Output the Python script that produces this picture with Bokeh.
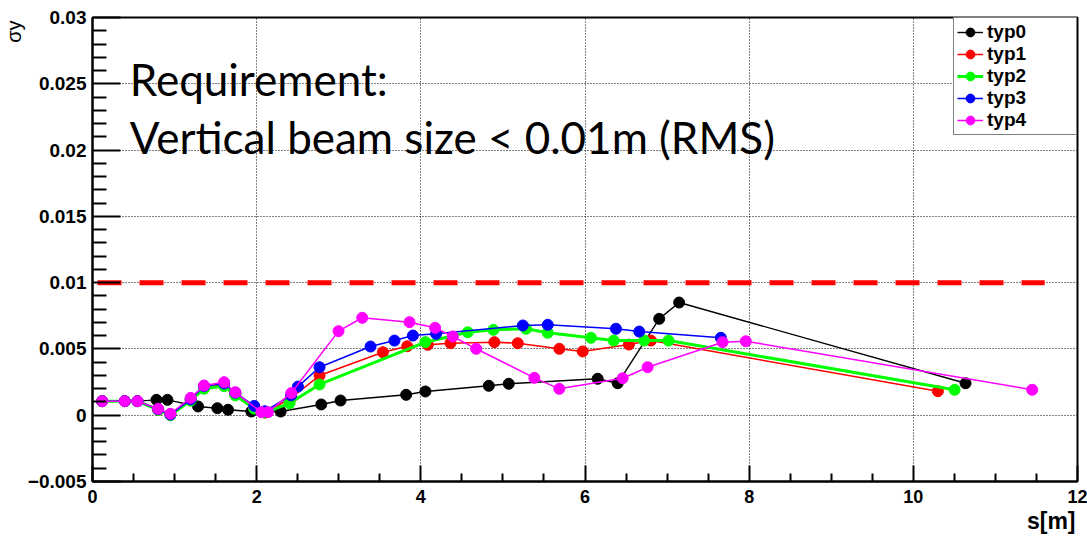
import numpy as np
from bokeh.plotting import figure
from bokeh.models import FixedTicker, Label, Legend, LegendItem, Range1d, Title
from bokeh.embed import file_html
from bokeh.resources import INLINE

# ---------------- data ----------------
series_names = ["typ0", "typ1", "typ2", "typ3", "typ4"]
series_colors = ["#000000", "#ff0000", "#00ff00", "#0000ff", "#ff00ff"]

typ0_s = [0.118, 0.393, 0.548, 0.779, 0.913, 1.286, 1.521, 1.651, 1.935, 2.292, 2.787, 3.022,
          3.821, 4.056, 4.828, 5.071, 6.154, 6.398, 6.904, 7.147, 10.636]
typ0_sy = [0.00106, 0.00106, 0.00106, 0.00116, 0.00116, 0.00066, 0.00053, 0.00041, 0.00028, 0.00028,
           0.00081, 0.00111, 0.00154, 0.00179, 0.00222, 0.00237, 0.00275, 0.00241, 0.00727, 0.0085, 0.00241]

typ1_s = [0.118, 0.393, 0.548, 0.80, 0.949, 1.196, 1.359, 1.603, 1.740, 1.97, 2.10, 2.42,
          2.766, 3.538, 3.834, 4.085, 4.361, 4.896, 5.181, 5.687, 5.972, 6.535, 6.803, 10.299]
typ1_sy = [0.00106, 0.00106, 0.00106, 0.0004, 0.00005, 0.0012, 0.0021, 0.0023, 0.0016, 0.0006, 0.0002, 0.0013,
           0.00299, 0.00475, 0.00520, 0.00531, 0.00543, 0.00551, 0.00543, 0.00501, 0.00481, 0.00533, 0.00563, 0.00181]

typ2_s = [0.118, 0.393, 0.548, 0.80, 0.949, 1.196, 1.359, 1.603, 1.740, 1.97, 2.10, 2.40,
          2.766, 4.056, 4.572, 4.884, 5.282, 5.546, 6.073, 6.349, 6.721, 7.018, 10.503]
typ2_sy = [0.00106, 0.00106, 0.00106, 0.0004, 0.0000, 0.0011, 0.0020, 0.0022, 0.0015, 0.0005, 0.0002, 0.0009,
           0.00232, 0.00551, 0.00626, 0.00644, 0.00652, 0.00622, 0.00584, 0.00563, 0.00563, 0.00563, 0.00192]

typ3_s = [0.118, 0.393, 0.548, 0.80, 0.949, 1.196, 1.359, 1.603, 1.740, 1.97, 2.10, 2.42, 2.503,
          2.766, 3.387, 3.679, 3.903, 4.186, 5.242, 5.546, 6.377, 6.661, 7.655]
typ3_sy = [0.00106, 0.00106, 0.00106, 0.00045, 0.00005, 0.0012, 0.0022, 0.0024, 0.0017, 0.0007, 0.0003, 0.0015, 0.00216,
           0.00362, 0.00518, 0.00563, 0.00601, 0.00614, 0.00677, 0.00682, 0.00652, 0.00631, 0.00584]

typ4_s = [0.118, 0.393, 0.548, 0.800, 0.949, 1.196, 1.359, 1.603, 1.740, 2.057, 2.138, 2.422,
          2.997, 3.286, 3.862, 4.174, 4.390, 4.674, 5.383, 5.687, 6.459, 6.763, 7.676, 7.959, 11.448]
typ4_sy = [0.00106, 0.00106, 0.00106, 0.00048, 0.00011, 0.00131, 0.00224, 0.00249, 0.00173, 0.00023, 0.00023, 0.00167,
           0.00634, 0.00735, 0.00702, 0.00659, 0.00594, 0.00501, 0.00282, 0.00199, 0.00279, 0.00362, 0.00551, 0.00558, 0.00192]

series_s = [typ0_s, typ1_s, typ2_s, typ3_s, typ4_s]
series_sy = [typ0_sy, typ1_sy, typ2_sy, typ3_sy, typ4_sy]
series_widths = [1.4, 1.5, 3.0, 1.5, 1.5]

requirement = 0.01
req_s = [0.061, 11.60]

x_ticks = [0, 2, 4, 6, 8, 10, 12]
x_tick_labels = ["0", "2", "4", "6", "8", "10", "12"]
y_ticks = [-0.005, 0.0, 0.005, 0.01, 0.015, 0.02, 0.025, 0.03]
y_tick_labels = ["\u22120.005", "0", "0.005", "0.01", "0.015", "0.02", "0.025", "0.03"]

x_title = "s[m]"
y_title = "\u03c3y"
note_lines = ["Requirement:", "Vertical beam size < 0.01m (RMS)"]

# ---------------- figure ----------------
p = figure(width=1087, height=538, output_backend="svg", toolbar_location=None,
           x_range=Range1d(0, 12), y_range=Range1d(-0.005, 0.03),
           min_border_left=91, min_border_right=10, min_border_top=17, min_border_bottom=57)
p.title.visible = False
p.background_fill_color = "white"
p.border_fill_color = "white"
p.outline_line_color = "black"
p.outline_line_width = 2

x_minor = [v for v in np.arange(0, 12.01, 0.5) if v not in x_ticks]
y_minor = [round(v, 4) for v in np.arange(-0.005, 0.0301, 0.001) if round(v, 4) not in y_ticks]

p.xaxis.ticker = FixedTicker(ticks=x_ticks, minor_ticks=x_minor)
p.yaxis.ticker = FixedTicker(ticks=y_ticks, minor_ticks=y_minor)
p.xaxis.major_label_overrides = {t: l for t, l in zip(x_ticks, x_tick_labels)}
p.yaxis.major_label_overrides = {t: l for t, l in zip(y_ticks, y_tick_labels)}

for ax in (p.xaxis[0], p.yaxis[0]):
    ax.axis_line_width = 2
    ax.axis_line_color = "black"
    ax.major_tick_line_width = 2
    ax.minor_tick_line_width = 2
    ax.major_tick_line_color = "black"
    ax.minor_tick_line_color = "black"
    ax.major_tick_out = 0
    ax.minor_tick_out = 0
    ax.major_label_text_font = "Liberation Sans"
    ax.major_label_text_font_style = "bold"
    ax.major_label_text_color = "black"

p.xaxis.major_tick_in = 16
p.xaxis.minor_tick_in = 8
p.yaxis.major_tick_in = 28
p.yaxis.minor_tick_in = 14
p.xaxis.major_label_text_font_size = "18px"
p.yaxis.major_label_text_font_size = "19px"
p.xaxis.major_label_standoff = 8
p.yaxis.major_label_standoff = 6

p.xgrid.ticker = FixedTicker(ticks=x_ticks)
p.ygrid.ticker = FixedTicker(ticks=y_ticks)
for g in (p.xgrid[0], p.ygrid[0]):
    g.grid_line_color = "black"
    g.grid_line_dash = "1 2"
    g.grid_line_width = 1
    g.grid_line_alpha = 1.0

# requirement line
p.line(req_s, [requirement, requirement], line_color="#ff0000", line_width=5, line_dash="24 18")

items = []
for name, c, xs, ys, w in zip(series_names, series_colors, series_s, series_sy, series_widths):
    r1 = p.line(xs, ys, line_color=c, line_width=w)
    r2 = p.scatter(xs, ys, marker="circle", size=11, fill_color=c, line_color=c)
    items.append(LegendItem(label=name, renderers=[r1, r2]))

legend = Legend(items=items, location="top_right", margin=0, padding=3, spacing=0,
                glyph_width=26, glyph_height=22, label_height=22, label_width=86,
                label_standoff=4, label_text_font="Liberation Sans", label_text_font_style="bold",
                label_text_font_size="19px", label_text_color="black",
                border_line_color="black", border_line_width=1.5,
                background_fill_color="white", background_fill_alpha=1.0)
p.add_layout(legend, "center")

# annotation text
p.add_layout(Label(x=0.454, y=0.02535, text=note_lines[0], text_font="Lato",
                   text_font_size="44px", text_color="black", text_baseline="alphabetic"))
p.add_layout(Label(x=0.454, y=0.02095, text=note_lines[1], text_font="Lato",
                   text_font_size="44px", text_color="black", text_baseline="alphabetic"))

# axis titles (side-panel titles so they are not clipped to the frame)
p.add_layout(Title(text=x_title, align="right", offset=2, standoff=0,
                   text_font="Liberation Sans", text_font_style="bold",
                   text_font_size="23px", text_color="black"), "below")
p.add_layout(Title(text=y_title, align="right", offset=3, standoff=0,
                   text_font="Liberation Sans", text_font_style="normal",
                   text_font_size="20px", text_color="black"), "left")

open("out.html", "w").write(file_html(p, INLINE))
